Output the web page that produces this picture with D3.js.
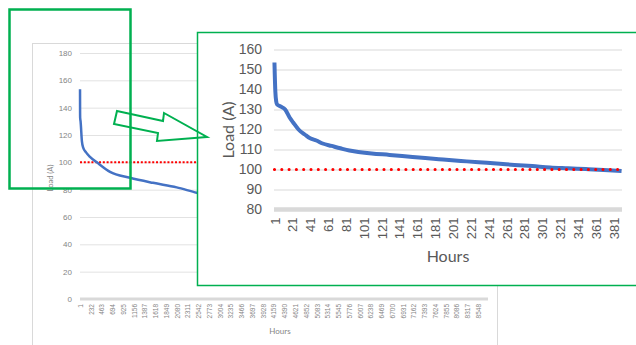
<!DOCTYPE html>
<html>
<head>
<meta charset="utf-8">
<script src="https://cdn.jsdelivr.net/npm/d3@7"></script>
<style>
  body { margin: 0; background: #fff; }
  svg { display: block; font-family: Lato, "Liberation Sans", sans-serif; }
</style>
</head>
<body>
<div id="chart"></div>
<script>
// full year load duration curve (hour rank, load in A)
const yearHours = [1, 2, 4, 13, 41, 71, 130, 215, 390, 645, 1074, 1568, 2076, 2506, 3500, 5000, 6500, 8000, 8760];
const yearLoad = [153.5, 139, 132.5, 130, 115.6, 110.5, 107.3, 104, 99.3, 93, 88.7, 85, 81.7, 77.8, 72, 65, 57, 48, 38];

// first 390 hours (zoomed view)
const insetHours = [1, 2, 3, 4, 8, 13, 18, 22, 28, 35, 41, 48, 55, 65, 75, 85, 95, 110, 130, 150, 170, 190, 210, 230, 250, 270, 290, 310, 330, 350, 370, 390];
const insetLoad = [153.5, 139, 134, 132.5, 131.5, 130, 126, 123.5, 120, 117.5, 115.6, 114.5, 113, 111.8, 110.6, 109.5, 108.8, 108, 107.3, 106.5, 105.7, 105, 104.3, 103.6, 103, 102.3, 101.7, 101, 100.6, 100.2, 99.8, 99.3];

const limitLoad = 100;

const yearTicks = [1, 232, 463, 694, 925, 1156, 1387, 1618, 1849, 2080, 2311, 2542, 2773, 3004, 3235, 3466, 3697, 3928, 4159, 4390, 4621, 4852, 5083, 5314, 5545, 5776, 6007, 6238, 6469, 6700, 6931, 7162, 7393, 7624, 7855, 8086, 8317, 8548];
const yearLoadTicks = [0, 20, 40, 60, 80, 100, 120, 140, 160, 180];
const insetTicks = [1, 21, 41, 61, 81, 101, 121, 141, 161, 181, 201, 221, 241, 261, 281, 301, 321, 341, 361, 381];
const insetLoadTicks = [80, 90, 100, 110, 120, 130, 140, 150, 160];

const svg = d3.select("#chart").append("svg")
    .attr("width", 636)
    .attr("height", 345);

const green = "#00B050";
const blue = "#4472C4";

// ---------- background chart ----------
svg.append("rect")
    .attr("x", 32.5).attr("y", 43.5)
    .attr("width", 465).attr("height", 330)
    .attr("fill", "#fff")
    .attr("stroke", "#d9d9d9");

const xYear = d3.scaleLinear().domain([0.5, 8760.5]).range([80, 488]);
const yYear = d3.scaleLinear().domain([0, 180]).range([299, 53]);

const yAxisBg = svg.append("g")
    .attr("transform", "translate(80,0)")
    .call(d3.axisLeft(yYear).tickValues(yearLoadTicks).tickSize(-408).tickPadding(8));
yAxisBg.select(".domain").remove();
yAxisBg.selectAll("line").attr("stroke", "#e2e2e2");
yAxisBg.selectAll("text").attr("font-size", 8).attr("fill", "#858585").attr("font-family", null);

svg.append("line")
    .attr("x1", 80).attr("x2", 488)
    .attr("y1", yYear(0)).attr("y2", yYear(0))
    .attr("stroke", "#d9d9d9").attr("stroke-width", 3);

const xAxisBg = svg.append("g")
    .attr("transform", "translate(0,299)")
    .call(d3.axisBottom(xYear).tickValues(yearTicks).tickFormat(d3.format("d")).tickSize(0));
xAxisBg.select(".domain").remove();
xAxisBg.selectAll("text")
    .attr("font-size", 6.5).attr("fill", "#858585").attr("font-family", null)
    .attr("transform", "rotate(-90)")
    .attr("text-anchor", "end")
    .attr("x", -5).attr("y", 0).attr("dy", "0.35em");

svg.append("text")
    .attr("x", 280).attr("y", 334)
    .attr("text-anchor", "middle")
    .attr("font-size", 8).attr("fill", "#858585")
    .text("Hours");

svg.append("text")
    .attr("transform", "translate(53,178) rotate(-90)")
    .attr("text-anchor", "middle")
    .attr("font-size", 7.5).attr("fill", "#858585")
    .text("Load (A)");

svg.append("line")
    .attr("x1", xYear(1)).attr("x2", xYear(8760))
    .attr("y1", yYear(limitLoad)).attr("y2", yYear(limitLoad))
    .attr("stroke", "#ff0000").attr("stroke-width", 2)
    .attr("stroke-dasharray", "2 1.8");

const lineYear = d3.line()
    .x((d, i) => xYear(yearHours[i]))
    .y(d => yYear(d))
    .curve(d3.curveMonotoneX);
svg.append("path")
    .datum(yearLoad)
    .attr("d", lineYear)
    .attr("fill", "none")
    .attr("stroke", blue).attr("stroke-width", 2.5);

// ---------- inset chart ----------
svg.append("rect")
    .attr("x", 197.5).attr("y", 32.5)
    .attr("width", 450).attr("height", 253)
    .attr("fill", "#fff");

// arrow
svg.append("polygon")
    .attr("points", "117,111 163,121 164,113 207,137 157,141 158,133 114,124")
    .attr("fill", "#fff")
    .attr("stroke", green).attr("stroke-width", 2)
    .attr("stroke-linejoin", "miter");

const xIn = d3.scaleLinear().domain([0.5, 390.5]).range([274, 622]);
const yIn = d3.scaleLinear().domain([80, 160]).range([209.5, 49.5]);

const yAxisIn = svg.append("g")
    .attr("transform", "translate(274,0)")
    .call(d3.axisLeft(yIn).tickValues(insetLoadTicks).tickSize(-348).tickPadding(12));
yAxisIn.select(".domain").remove();
yAxisIn.selectAll("line").attr("stroke", "#d9d9d9").attr("stroke-width", 1.2);
yAxisIn.selectAll("text").attr("font-size", 14).attr("fill", "#595959").attr("font-family", null);

svg.append("line")
    .attr("x1", 274).attr("x2", 622)
    .attr("y1", yIn(80)).attr("y2", yIn(80))
    .attr("stroke", "#d9d9d9").attr("stroke-width", 4.5);

const xAxisIn = svg.append("g")
    .attr("transform", "translate(0,209.5)")
    .call(d3.axisBottom(xIn).tickValues(insetTicks).tickFormat(d3.format("d")).tickSize(0));
xAxisIn.select(".domain").remove();
xAxisIn.selectAll("text")
    .attr("font-size", 13).attr("fill", "#595959").attr("font-family", null)
    .attr("transform", "rotate(-90)")
    .attr("text-anchor", "end")
    .attr("x", -8).attr("y", 0).attr("dy", "0.35em");

svg.append("text")
    .attr("x", 448).attr("y", 262)
    .attr("text-anchor", "middle")
    .attr("font-size", 16).attr("fill", "#595959")
    .text("Hours");

svg.append("text")
    .attr("transform", "translate(234,130) rotate(-90)")
    .attr("text-anchor", "middle")
    .attr("font-size", 16).attr("fill", "#595959")
    .text("Load (A)");

const lineIn = d3.line()
    .x((d, i) => xIn(insetHours[i]))
    .y(d => yIn(d))
    .curve(d3.curveMonotoneX);
svg.append("path")
    .datum(insetLoad)
    .attr("d", lineIn)
    .attr("fill", "none")
    .attr("stroke", blue).attr("stroke-width", 4)
    .attr("stroke-linejoin", "round");

svg.append("line")
    .attr("x1", xIn(1)).attr("x2", xIn(386))
    .attr("y1", yIn(limitLoad)).attr("y2", yIn(limitLoad))
    .attr("stroke", "#ff0000").attr("stroke-width", 3)
    .attr("stroke-linecap", "round")
    .attr("stroke-dasharray", "0.1 7.2");

// inset border
svg.append("rect")
    .attr("x", 197.5).attr("y", 32.5)
    .attr("width", 450).attr("height", 253)
    .attr("fill", "none")
    .attr("stroke", green).attr("stroke-width", 1.5);

// highlight box on the main chart
svg.append("rect")
    .attr("x", 9.5).attr("y", 9.5)
    .attr("width", 121).attr("height", 179)
    .attr("fill", "none")
    .attr("stroke", green).attr("stroke-width", 2.5);
</script>
</body>
</html>
